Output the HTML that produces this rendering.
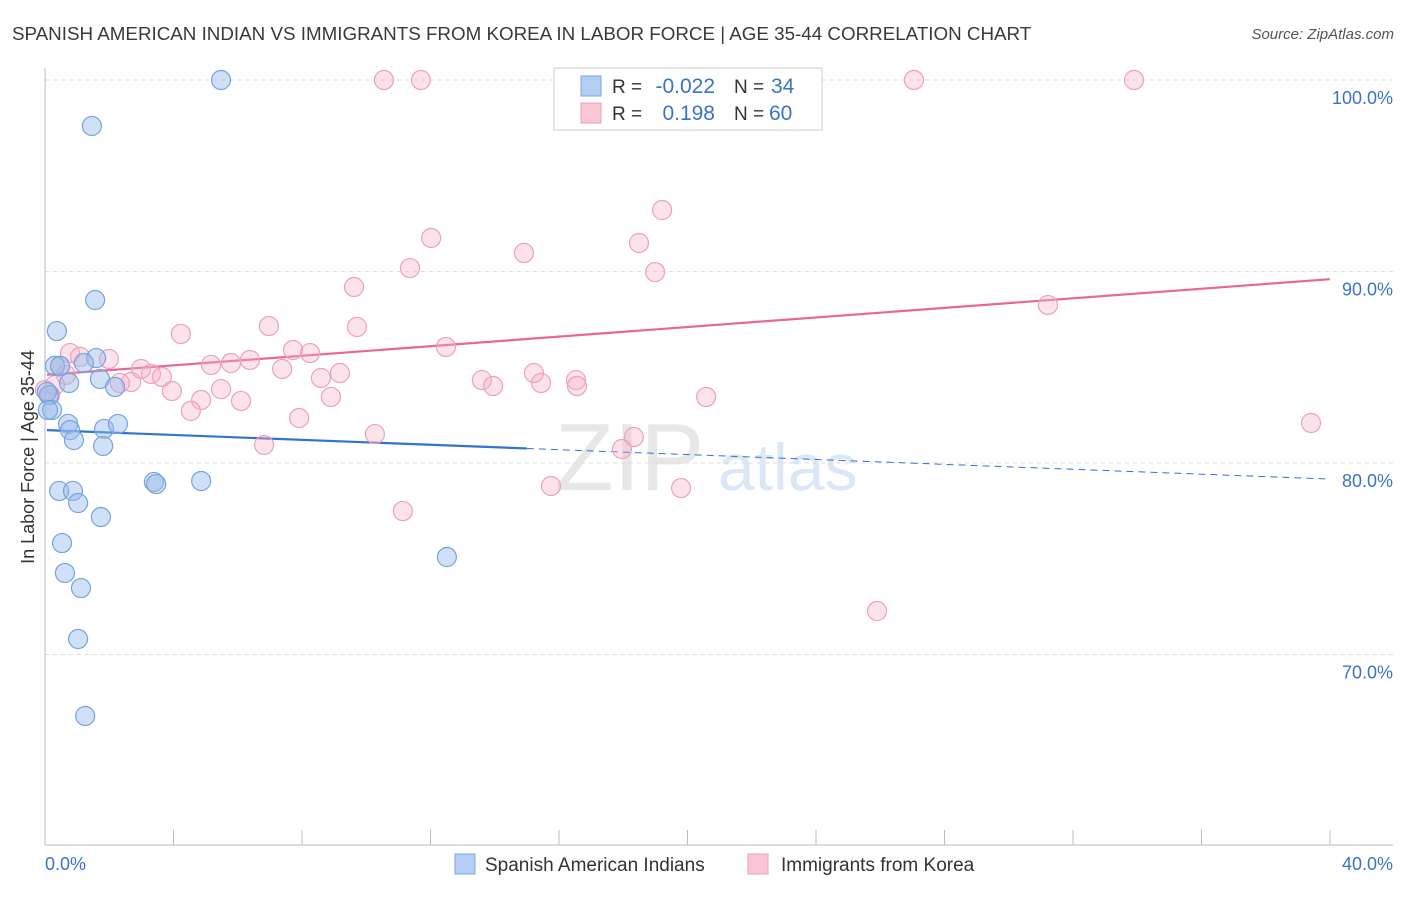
<!DOCTYPE html>
<html><head><meta charset="utf-8"><style>
body{margin:0;background:#fff;font-family:"Liberation Sans",sans-serif}
svg text{font-family:"Liberation Sans",sans-serif}
</style></head><body>
<svg id="chart" width="1406" height="892" xmlns="http://www.w3.org/2000/svg">
<text x="12" y="40" font-size="18.8" fill="#3a3a3a">SPANISH AMERICAN INDIAN VS IMMIGRANTS FROM KOREA IN LABOR FORCE | AGE 35-44 CORRELATION CHART</text>
<text x="1394" y="39" font-size="15" fill="#555" text-anchor="end" font-style="italic">Source: ZipAtlas.com</text>
<text transform="translate(34,457) rotate(-90)" font-size="18" fill="#333" text-anchor="middle">In Labor Force | Age 35-44</text>
<g>
<text x="555" y="490" font-size="96" fill="#d8d8d8" font-family="Liberation Serif" opacity="0.6">ZIP</text>
<text x="718" y="490" font-size="66" fill="#c5d8f0" opacity="0.6">atlas</text>
</g>
<g id="grid"></g><g id="axes"></g><g id="lines"></g><g id="pts"></g>
<g>
<rect x="554" y="68" width="268" height="62" fill="#fff" stroke="#ccc"/>
<rect x="581" y="76" width="20" height="20" fill="#b3cdf3" stroke="#7aa5e0"/>
<rect x="581" y="103" width="20" height="20" fill="#f9c6d6" stroke="#eaa0b8"/>
<text x="612" y="93" font-size="19" fill="#333">R =</text>
<text x="715" y="93" font-size="21" fill="#3b73c8" text-anchor="end">-0.022</text>
<text x="734" y="93" font-size="19" fill="#333">N =</text>
<text x="771" y="93" font-size="21" fill="#3b73c8">34</text>
<text x="612" y="120" font-size="19" fill="#333">R =</text>
<text x="715" y="120" font-size="21" fill="#3b73c8" text-anchor="end">0.198</text>
<text x="734" y="120" font-size="19" fill="#333">N =</text>
<text x="769" y="120" font-size="21" fill="#3b73c8">60</text>
</g>
<g>
<rect x="455" y="854" width="20" height="20" fill="#b3cdf3" stroke="#7aa5e0"/>
<text x="485" y="871" font-size="19" fill="#333">Spanish American Indians</text>
<rect x="748" y="854" width="20" height="20" fill="#f9c6d6" stroke="#eaa0b8"/>
<text x="781" y="871" font-size="19" fill="#333">Immigrants from Korea</text>
</g>
</svg>
<script>
const yTicks=[100,90,80,70];
const yTickLabels=["100.0%","90.0%","80.0%","70.0%"];
const xTicks=[0,4,8,12,16,20,24,28,32,36,40];
const blueX=[5.48,1.46,1.56,0.37,1.59,0.31,1.21,0.75,1.71,2.18,0.12,0.22,0.72,0.78,1.84,2.27,0.90,1.81,3.39,3.46,4.86,0.44,0.87,1.03,1.74,0.53,0.62,1.12,1.03,1.25,12.51,0.06,0.09,0.47];
const blueY=[100,97.6,88.51,86.89,85.48,85.07,85.22,84.18,84.39,83.97,83.55,82.77,82.04,81.72,81.78,82.04,81.2,80.89,79.01,78.9,79.06,78.54,78.54,77.91,77.18,75.82,74.26,73.47,70.81,66.79,75.09,83.71,82.77,85.07];
const pinkX=[10.55,11.7,27.05,33.9,19.21,12.02,18.49,14.91,11.36,18.99,9.62,31.22,4.23,6.97,9.71,12.48,7.72,8.25,0.78,1.09,1.99,0.47,6.38,5.79,5.17,7.38,2.99,3.30,3.64,9.18,15.22,8.59,13.6,16.53,2.68,2.33,5.48,3.95,13.95,15.44,16.56,4.86,8.9,20.58,6.10,4.54,7.91,39.41,10.27,18.33,6.82,17.96,15.75,19.8,11.14,25.9,0,0.16,0.65,0.31];
const pinkY=[100,100,100,100,93.21,91.75,91.49,90.97,90.18,89.97,89.19,88.25,86.74,87.15,87.1,86.06,85.9,85.74,85.74,85.54,85.43,85.07,85.38,85.22,85.12,84.91,84.91,84.65,84.49,84.7,84.7,84.44,84.33,84.33,84.23,84.18,83.86,83.76,84.02,84.18,84.02,83.29,83.45,83.45,83.24,82.72,82.35,82.09,81.51,81.36,80.94,80.73,78.8,78.69,77.49,72.27,83.81,83.55,84.6,84.07];
const blueTrend=[81.72,79.16];
const pinkTrend=[84.6,89.6];
const X=v=>45+v*32.125, Y=v=>80+(100-v)*19.15;
const NS="http://www.w3.org/2000/svg";
function mk(t,a,p){const e=document.createElementNS(NS,t);for(const k in a)e.setAttribute(k,a[k]);p.appendChild(e);return e;}
const grid=document.getElementById('grid'),axes=document.getElementById('axes'),lines=document.getElementById('lines'),pts=document.getElementById('pts');
yTicks.forEach((t,i)=>{
 const l=mk('line',{x1:45,x2:1393,y1:Y(t),y2:Y(t),stroke:'#ddd','stroke-dasharray':'4,4'},grid);
 
 
 const tx=mk('text',{x:1393,y:Y(t)+24,'font-size':18,fill:'#3b73c8','text-anchor':'end'},axes);
 tx.textContent=yTickLabels[i];
 
 
});
let a=mk('line',{x1:45,x2:45,y1:68,y2:845,stroke:'#bbb'},axes);


a=mk('line',{x1:45,x2:1393,y1:845,y2:845,stroke:'#bbb'},axes);


xTicks.forEach(t=>{const l=mk('line',{x1:X(t),x2:X(t),y1:830,y2:845,stroke:'#bbb'},axes);
 
 });
let t0=mk('text',{x:45,y:870,'font-size':18,fill:'#3b73c8'},axes);t0.textContent='0.0%';


let t1=mk('text',{x:1393,y:870,'font-size':18,fill:'#3b73c8','text-anchor':'end'},axes);t1.textContent='40.0%';


function pt(x,y,f,s,n){const c=mk('circle',{cx:X(x),cy:Y(y),r:9.5,fill:f,stroke:s,'stroke-width':1.2},pts);
 
 }
pinkX.forEach((x,i)=>pt(x,pinkY[i],'rgba(246,175,198,0.35)','#eba2ba','korea-point'));
blueX.forEach((x,i)=>pt(x,blueY[i],'rgba(150,186,236,0.45)','#78a3df','spanish-point'));
const by=x=>blueTrend[0]+(blueTrend[1]-blueTrend[0])*x/40, py=x=>pinkTrend[0]+(pinkTrend[1]-pinkTrend[0])*x/40;
let l=mk('line',{x1:X(0.06),y1:Y(by(0.06)),x2:X(15),y2:Y(by(15)),stroke:'#2f74d0','stroke-width':2.2},lines);


l=mk('line',{x1:X(15),y1:Y(by(15)),x2:X(40),y2:Y(by(40)),stroke:'#2f74d0','stroke-width':1,'stroke-dasharray':'7,5'},lines);


l=mk('line',{x1:X(0.06),y1:Y(py(0.06)),x2:X(40),y2:Y(py(40)),stroke:'#e8679a','stroke-width':2.2},lines);


</script>
</body></html>
